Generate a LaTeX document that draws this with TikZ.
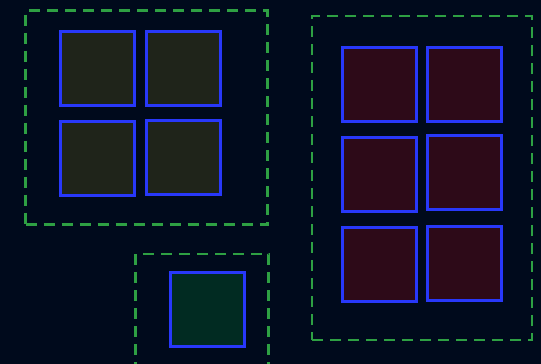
\documentclass[tikz,border=0pt]{standalone}
\usepackage{tikz}
\usetikzlibrary{positioning}
\definecolor{bgnavy}{RGB}{0,10,28}
\definecolor{grpgreen}{RGB}{46,160,67}
\definecolor{boxblue}{RGB}{40,56,250}
\definecolor{fillolive}{RGB}{31,36,26}
\definecolor{fillwine}{RGB}{45,10,24}
\definecolor{fillpine}{RGB}{1,43,34}
\tikzset{
  cell/.style={draw=boxblue,line width=3pt,minimum size=74pt,inner sep=0pt},
  group/.style={draw=grpgreen,line width=2.6pt,dash pattern=on 11pt off 7pt,inner sep=0pt}
}
\begin{document}
\begin{tikzpicture}[x=1pt,y=-1pt]
\useasboundingbox (0,0) rectangle (541,364);
\fill[bgnavy] (0,0) rectangle (541,364);
\clip (0,0) rectangle (541,364);
% left group
\node[group,minimum width=242pt,minimum height=214pt] (gl) at (146.5,117.5) {};
\node[cell,fill=fillolive] (l1) at (97,68) {};
\node[cell,fill=fillolive] (l2) at (183,68) {};
\node[cell,fill=fillolive] (l3) at (97,158) {};
\node[cell,fill=fillolive] (l4) at (183,157) {};
% bottom group
\node[group,minimum width=133pt,minimum height=130pt] (gb) at (202,319) {};
\node[cell,fill=fillpine] (b1) at (207,309) {};
% right group
\node[group,minimum width=220pt,minimum height=324pt] (gr) at (422,178) {};
\node[cell,fill=fillwine] (r1) at (379,84) {};
\node[cell,fill=fillwine] (r2) at (464,84) {};
\node[cell,fill=fillwine] (r3) at (379,174) {};
\node[cell,fill=fillwine] (r4) at (464,172) {};
\node[cell,fill=fillwine] (r5) at (379,264) {};
\node[cell,fill=fillwine] (r6) at (464,263) {};
\end{tikzpicture}
\end{document}
